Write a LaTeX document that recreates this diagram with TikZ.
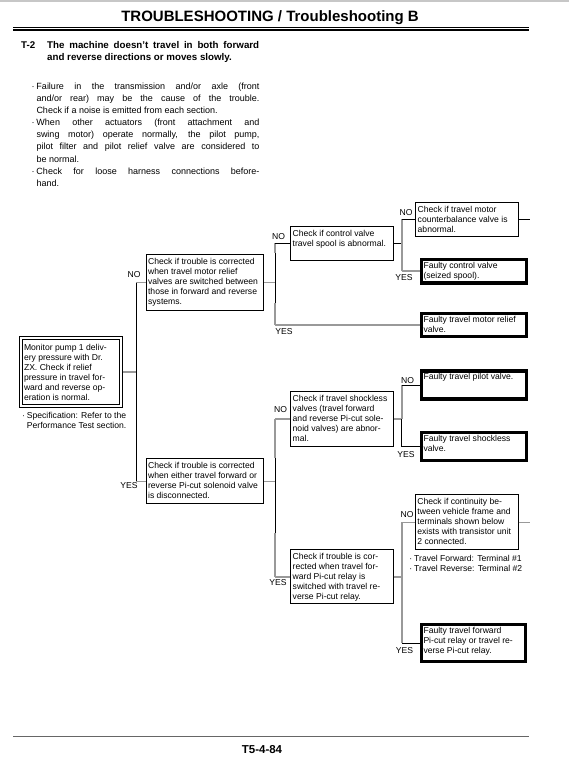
\documentclass[tikz,border=0pt]{standalone}
\usepackage{fontspec}
\setmainfont{Liberation Sans}
\usetikzlibrary{calc}
\newcommand{\bxf}{\fontsize{8.6}{10}\selectfont}
\newcommand{\boxtxt}[1]{\parbox[t]{170pt}{\raggedright #1}}
\newcommand{\bdot}{\leavevmode\llap{·\hspace{2pt}}}
\begin{document}
\begin{tikzpicture}[x=1pt,y=-1pt,
  box/.style={draw=black,line width=0.9pt,inner sep=0pt,anchor=north west},
  tbox/.style={draw=black,line width=3.3pt,inner sep=0pt,anchor=north west},
  txt/.style={anchor=base west,inner sep=0pt,font=\bxf},
  lab/.style={inner sep=0pt,font=\bxf},
  gl/.style={draw=black!40,line width=1.5pt},
  bl/.style={draw=black,line width=0.9pt}]
\fill[white] (0,0) rectangle (569,770);
\useasboundingbox (0,0) rectangle (569,770);

% page frame lines
\draw[black!22,line width=1.5pt] (0,1) -- (569,1);
\node[anchor=base,inner sep=0pt,font=\bfseries\fontsize{15}{18}\selectfont] (title) at (270,21.5) {TROUBLESHOOTING / Troubleshooting B};
\draw[line width=0.9pt] (13,27.3) -- (528.5,27.3);
\draw[line width=2pt] (13,29.8) -- (528.5,29.8);

% heading
\node[anchor=base west,inner sep=0pt,font=\bfseries\fontsize{9.75}{12}\selectfont] (tno) at (21,49) {T-2};
\node[anchor=base west,inner sep=0pt,font=\bfseries\fontsize{9.75}{12}\selectfont] (thead) at (47,49)
  {\parbox[t]{230pt}{\makebox[212pt][s]{The machine doesn't travel in both forward}\\and reverse directions or moves slowly.}};

% bullets
\node[anchor=base west,inner sep=0pt] (bul) at (36.3,89.5)
  {\parbox[t]{240pt}{\fontsize{9}{12.1}\selectfont
  \bdot\makebox[223pt][s]{Failure in the transmission and/or axle (front}\\
  \makebox[223pt][s]{and/or rear) may be the cause of the trouble.}\\
  Check if a noise is emitted from each section.\\
  \bdot\makebox[223pt][s]{When other actuators (front attachment and}\\
  \makebox[223pt][s]{swing motor) operate normally, the pilot pump,}\\
  \makebox[223pt][s]{pilot filter and pilot relief valve are considered to}\\
  be normal.\\
  \bdot\makebox[223pt][s]{Check for loose harness connections before-}\\
  hand.}};

% start box
\node[box,minimum width=102.4pt,minimum height=70.4pt] (st) at (19.3,336.3) {};
\draw[line width=0.9pt] ($(st.north west)+(3,3)$) rectangle ($(st.south east)+(-3,-3)$);
\node[txt] (tst) at (23.8,350) {\boxtxt{Monitor pump 1 deliv-\\ery pressure with Dr.\\ZX. Check if relief\\pressure in travel for-\\ward and reverse op-\\eration is normal.}};
\node[txt] (spec) at (26.7,418.5) {\boxtxt{\bdot Specification: Refer to the\\Performance Test section.}};

% thin boxes
\node[box,minimum width=117.6pt,minimum height=55.7pt] (b2) at (145.7,254.3) {};
\node[box,minimum width=102.4pt,minimum height=34.6pt] (b3) at (290.3,225.7) {};
\node[box,minimum width=102.4pt,minimum height=34.3pt] (b5) at (415.3,201.7) {};
\node[box,minimum width=117.6pt,minimum height=45pt] (b7) at (145.7,458.3) {};
\node[box,minimum width=102.4pt,minimum height=54.7pt] (b8) at (290.3,391) {};
\node[box,minimum width=102.4pt,minimum height=54pt] (b9) at (290.3,549.3) {};
\node[box,minimum width=102.7pt,minimum height=55pt] (b12) at (415,494.3) {};
% thick boxes
\node[tbox,minimum width=105pt,minimum height=23.4pt] (b4) at (420,311.7) {};
\node[tbox,minimum width=105pt,minimum height=23.7pt] (b6) at (420,257.7) {};
\node[tbox,minimum width=105pt,minimum height=28pt] (b10) at (420,369.3) {};
\node[tbox,minimum width=105pt,minimum height=28pt] (b11) at (420,431) {};
\node[tbox,minimum width=104pt,minimum height=37.4pt] (b13) at (420,622.7) {};

% box texts
\node[txt] (t2) at ($(b2.north west)+(2.2,10.5)$) {\boxtxt{Check if trouble is corrected\\when travel motor relief\\valves are switched between\\those in forward and reverse\\systems.}};
\node[txt] (t3) at ($(b3.north west)+(2.2,10.5)$) {\boxtxt{Check if control valve\\travel spool is abnormal.}};
\node[txt] (t5) at ($(b5.north west)+(2.2,10.5)$) {\boxtxt{Check if travel motor\\counterbalance valve is\\abnormal.}};
\node[txt] (t7) at ($(b7.north west)+(2.2,10.5)$) {\boxtxt{Check if trouble is corrected\\when either travel forward or\\reverse Pi-cut solenoid valve\\is disconnected.}};
\node[txt] (t8) at ($(b8.north west)+(2.2,10.5)$) {\boxtxt{Check if travel shockless\\valves (travel forward\\and reverse Pi-cut sole-\\noid valves) are abnor-\\mal.}};
\node[txt] (t9) at ($(b9.north west)+(2.2,10.5)$) {\boxtxt{Check if trouble is cor-\\rected when travel for-\\ward Pi-cut relay is\\switched with travel re-\\verse Pi-cut relay.}};
\node[txt] (t12) at ($(b12.north west)+(2.2,10.5)$) {\boxtxt{Check if continuity be-\\tween vehicle frame and\\terminals shown below\\exists with transistor unit\\2 connected.}};
\node[txt] (t4) at ($(b4.north west)+(3.3,10.5)$) {\boxtxt{Faulty travel motor relief\\valve.}};
\node[txt] (t6) at ($(b6.north west)+(3.3,10.5)$) {\boxtxt{Faulty control valve\\(seized spool).}};
\node[txt] (t10) at ($(b10.north west)+(3.3,10.5)$) {\boxtxt{Faulty travel pilot valve.}};
\node[txt] (t11) at ($(b11.north west)+(3.3,10.5)$) {\boxtxt{Faulty travel shockless\\valve.}};
\node[txt] (t13) at ($(b13.north west)+(3.3,10.5)$) {\boxtxt{Faulty travel forward\\Pi-cut relay or travel re-\\verse Pi-cut relay.}};
\node[txt] (tnote) at (414,561.5) {\boxtxt{\bdot Travel Forward: Terminal \#1\\\bdot Travel Reverse: Terminal \#2}};

% junctions
\coordinate (j1) at ($(st.east)+(13.4,0)$);
\coordinate (j2) at ($(b2.east)+(11,0)$);
\coordinate (j3) at ($(b3.east)+(8.2,0)$);
\coordinate (j4) at ($(b7.east)+(11,0)$);
\coordinate (j5) at ($(b8.east)+(8.2,0)$);
\coordinate (j6) at ($(b9.east)+(8.2,0)$);
\coordinate (e5) at ($(b5.east)+(11,0)$);
\coordinate (e12) at ($(b12.east)+(11,0)$);

% main trunk
\draw[gl] (st.east) -- (j1);
\draw[bl] (j1 |- b2.west) -- (j1 |- b7.west);
\draw[gl] (j1 |- b2.west) -- (b2.west);
\draw[gl] (j1 |- b7.west) -- (b7.west);

% upper split
\draw[gl] (b2.east) -- (j2);
\draw[gl] (j2 |- b3.west) -- ($(j2 |- b3.west)+(0,10)$);
\draw[bl] ($(j2 |- b3.west)+(0,10)$) -- ($(j2 |- b4.west)+(0,-22)$);
\draw[gl] ($(j2 |- b4.west)+(0,-22)$) -- (j2 |- b4.west);
\draw[bl] (j2 |- b3.west) -- (b3.west);
\draw[gl] (j2 |- b4.west) -- (b4.west);

\draw[bl] (b3.east) -- (j3);
\draw[gl] (j3 |- b5.west) -- (j3 |- b6.west);
\draw[bl] (j3 |- b5.west) -- (b5.west);
\draw[gl] (j3 |- b6.west) -- (b6.west);
\draw[bl] (b5.east) -- (e5);

% lower split
\draw[gl] (b7.east) -- (j4);
\draw[gl] (j4 |- b8.west) -- ($(j4)+(0,-23)$);
\draw[bl] ($(j4)+(0,-23)$) -- ($(j4)+(0,52)$);
\draw[gl] ($(j4)+(0,52)$) -- (j4 |- b9.west);
\draw[gl] (j4 |- b8.west) -- (b8.west);
\draw[gl] (j4 |- b9.west) -- (b9.west);

\draw[gl] (b8.east) -- (j5);
\draw[gl] (j5 |- b10.west) -- (j5);
\draw[bl] (j5) -- (j5 |- b11.west);
\draw[bl] (j5 |- b10.west) -- (b10.west);
\draw[bl] (j5 |- b11.west) -- (b11.west);

\draw[gl] (b9.east) -- (j6);
\draw[gl] (j6 |- b12.west) -- (j6 |- b13.west);
\draw[gl] (j6 |- b12.west) -- (b12.west);
\draw[gl] (b12.east) -- (e12);
\draw[bl] (j6 |- b13.west) -- (b13.west);

% labels
\node[lab] (l1) at (134,275) {NO};
\node[lab] (l2) at (129,486) {YES};
\node[lab] (l3) at (278.5,237) {NO};
\node[lab] (l4) at (284,332) {YES};
\node[lab] (l5) at (406,213) {NO};
\node[lab] (l6) at (404,278) {YES};
\node[lab] (l7) at (280.5,410) {NO};
\node[lab] (l8) at (278,583) {YES};
\node[lab] (l9) at (407.5,381) {NO};
\node[lab] (l10) at (406,455) {YES};
\node[lab] (l11) at (407,515) {NO};
\node[lab] (l12) at (404.5,651) {YES};

% footer
\draw[black!60,line width=1pt] (13,736) -- (529,736);
\node[anchor=base,inner sep=0pt,font=\bfseries\fontsize{11.5}{13}\selectfont] (foot) at (262,753) {T5-4-84};
\end{tikzpicture}
\end{document}
